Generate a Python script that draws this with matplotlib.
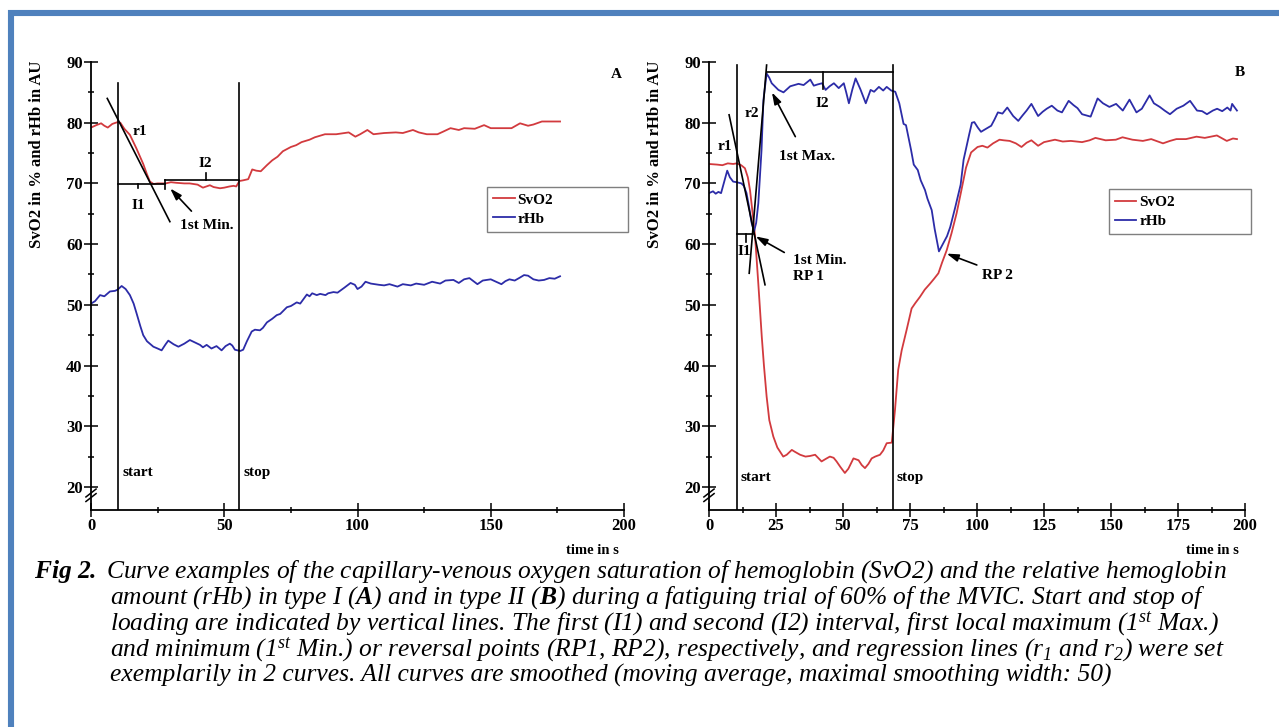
import numpy as np
import matplotlib.pyplot as plt
from matplotlib.patches import Rectangle
from matplotlib.ticker import MultipleLocator

plt.rcParams.update({
    'font.family': 'Liberation Serif',
    'font.weight': 'bold',
    'axes.labelweight': 'bold',
    'mathtext.fontset': 'custom',
    'mathtext.rm': 'Liberation Serif:style=italic:weight=normal',
    'mathtext.it': 'Liberation Serif:style=italic:weight=normal',
    'mathtext.bf': 'Liberation Serif:style=italic:weight=bold',
})

RED = '#d23a3e'
BLUE = '#2c2ca8'

# ---------------- data ----------------
# panel A (type I)
a_svo2_t = [0, 2, 3.8, 5, 6.3, 8, 10, 11, 12.5, 14.6, 17, 19.6, 21, 22.1, 23.5, 25, 28, 30, 32, 35, 37,
            40, 42, 44.6, 46, 48.4, 50, 52, 53.5, 54.5, 55.7, 57, 59, 60.5, 62, 63.7, 66, 68, 70, 72,
            75, 77, 79, 82, 84, 87.8, 92, 96.7, 99.2, 101, 103.7, 106, 110, 114.4, 117, 120.8, 123,
            126, 130, 132, 134.9, 138, 140, 144, 147.5, 150, 154, 157.8, 161, 164, 166, 169.2, 172, 176]
a_svo2 = [79.2, 79.6, 79.9, 79.5, 79.2, 79.8, 80.1, 80.0, 79.0, 78.0, 75.8, 73.2, 71.5, 70.3, 69.9, 70.0,
          70.0, 70.2, 70.1, 70.0, 70.0, 69.8, 69.3, 69.7, 69.4, 69.2, 69.3, 69.5, 69.6, 69.5, 70.4, 70.5,
          70.7, 72.3, 72.1, 72.0, 73.0, 73.8, 74.4, 75.3, 76.0, 76.3, 76.8, 77.2, 77.6, 78.1, 78.1, 78.4,
          77.7, 78.1, 78.8, 78.1, 78.3, 78.4, 78.3, 78.8, 78.4, 78.1, 78.1, 78.5, 79.1, 78.8, 79.1, 79.0,
          79.6, 79.1, 79.1, 79.1, 79.9, 79.5, 79.7, 80.2, 80.2, 80.2]
a_rhb_t = [0, 1.5, 3.4, 5, 7.1, 9, 10, 11.5, 13, 14.6, 16, 17.1, 18.5, 19.6, 21, 23.4, 25, 26.5, 28, 29,
           31, 32.8, 35, 37.1, 39, 40.9, 42, 43.4, 45.2, 47.1, 49, 50.5, 52.1, 53, 54, 56, 57.1, 58.5,
           60.3, 61.5, 63.4, 64.5, 66, 68, 69.7, 71, 73.5, 75, 77.2, 78.5, 81, 82, 83, 84.7, 86, 88, 89,
           91, 92.5, 95, 97.4, 99, 100, 101.5, 103, 105, 108, 110, 112, 115, 117, 120, 122, 125, 128,
           131, 133, 136, 138, 140, 142, 143.5, 145, 147, 150, 152, 154, 155.5, 157, 159, 161, 162.5,
           164, 166, 168, 170, 172, 174, 176]
a_rhb = [50.2, 50.6, 51.6, 51.4, 52.2, 52.3, 52.5, 53.1, 52.6, 51.6, 50.2, 48.6, 46.5, 45.0, 44.0, 43.1,
         42.8, 42.5, 43.5, 44.1, 43.5, 43.1, 43.6, 44.2, 43.8, 43.4, 43.0, 43.4, 42.8, 43.2, 42.5, 43.2,
         43.6, 43.3, 42.6, 42.4, 42.6, 44.0, 45.6, 45.9, 45.8, 46.2, 47.1, 47.7, 48.3, 48.5, 49.6, 49.8,
         50.4, 50.2, 51.7, 51.4, 51.9, 51.6, 51.8, 51.6, 51.9, 52.1, 52.0, 52.8, 53.6, 53.3, 52.6, 53.0,
         53.8, 53.5, 53.3, 53.2, 53.4, 53.0, 53.4, 53.2, 53.5, 53.3, 53.8, 53.5, 54.0, 54.1, 53.6, 54.2,
         54.4, 53.9, 53.4, 54.0, 54.2, 53.8, 53.4, 53.9, 54.2, 54.0, 54.5, 54.9, 54.8, 54.2, 54.0, 54.1,
         54.4, 54.3, 54.7]

# panel B (type II)
b_svo2_t = [0, 3, 5, 7, 9, 10.3, 12, 13.4, 14.5, 15.3, 16.3, 17.2, 18.4, 19.7, 20.5, 21.5, 22.5, 24,
            25.5, 27.7, 29, 30.9, 32, 34, 36, 37.7, 39.6, 42, 43.5, 45.1, 46.5, 47.6, 49, 50.7, 52,
            53.9, 55.8, 57, 58.2, 59.5, 60.7, 62, 63.8, 65, 66.3, 68.2, 69.4, 70.6, 71.9, 73.7, 75.6,
            77, 78.7, 80.5, 82.5, 84, 85.6, 87, 88.7, 90.5, 92.4, 94, 95.9, 97.8, 100.2, 102, 103.9,
            106, 108.4, 110, 112.2, 114.5, 116.6, 118.5, 120.3, 122.8, 125, 129.1, 132, 135, 139.2,
            142, 144.2, 148, 151.8, 154.3, 158, 161.9, 165, 169.4, 172, 174.4, 178, 181.9, 185,
            189.5, 193.2, 195.5, 197]
b_svo2 = [73.2, 73.1, 73.0, 73.3, 73.2, 73.3, 73.0, 72.5, 71.0, 68.9, 65.0, 61.2, 53.5, 44.7, 40.0,
          34.9, 31.0, 28.3, 26.5, 25.0, 25.3, 26.1, 25.8, 25.3, 25.0, 25.1, 25.3, 24.2, 24.6, 25.0,
          24.8, 24.2, 23.3, 22.3, 23.0, 24.7, 24.4, 23.6, 23.1, 23.8, 24.7, 25.0, 25.3, 26.0, 27.2,
          27.3, 32.7, 39.3, 42.5, 45.8, 49.4, 50.3, 51.3, 52.5, 53.5, 54.3, 55.2, 57.0, 59.0, 61.8,
          65.1, 68.5, 72.6, 75.1, 76.0, 76.2, 75.9, 76.6, 77.2, 77.1, 77.0, 76.6, 76.0, 76.7, 77.1,
          76.2, 76.8, 77.2, 76.9, 77.0, 76.8, 77.1, 77.5, 77.1, 77.2, 77.6, 77.2, 77.0, 77.3, 76.6,
          77.0, 77.3, 77.3, 77.7, 77.5, 77.9, 77.0, 77.4, 77.3]
b_rhb_t = [0, 1.5, 2.5, 3.5, 4.5, 5.5, 6.8, 7.8, 9, 10.3, 12.1, 13, 14, 15, 15.9, 16.8, 17.6, 18.4,
           19.6, 20.3, 21.5, 22.5, 23.4, 25.9, 27.8, 30.3, 33.4, 35.3, 37.8, 39.1, 40.5, 42.2, 43.5,
           45, 46.6, 48.4, 50.3, 51.2, 52.2, 53.5, 54.7, 56.5, 58.5, 60.3, 61.6, 63.4, 65, 66.3, 68,
           69.5, 71, 72.6, 73.5, 75.4, 76.4, 77.9, 79, 80.6, 81.5, 83.1, 84.2, 85.8, 87, 88.8, 90,
           91.9, 93.9, 95, 97.1, 98.1, 99, 100.3, 101.5, 103, 105.3, 106.5, 107.8, 109.5, 111.3,
           113.5, 115.4, 117, 118.5, 120.3, 122.8, 124.5, 126, 127.9, 130, 131.7, 134.2, 136, 137.5,
           139.2, 142.4, 145, 147, 149.4, 151.9, 154.4, 156.9, 159.5, 161.5, 164.4, 166, 168.2, 170,
           172, 174.5, 177, 179.5, 182.1, 184, 185.8, 188, 189.6, 191.5, 193.4, 194.6, 195.2, 196, 197]
b_rhb = [68.4, 68.7, 68.3, 68.6, 68.4, 70.0, 72.1, 71.0, 70.3, 70.2, 70.0, 69.6, 68.4, 66.0, 63.5,
         62.1, 63.5, 66.7, 75.5, 83.7, 88.1, 87.4, 86.5, 85.4, 85.0, 86.0, 86.4, 86.2, 87.1, 86.1,
         86.3, 86.5, 85.4, 86.0, 86.5, 85.7, 86.5, 85.0, 83.2, 85.5, 87.3, 85.5, 83.2, 85.4, 85.1,
         85.9, 85.3, 85.9, 85.3, 85.1, 83.2, 79.8, 79.6, 75.5, 73.1, 72.2, 70.5, 68.9, 67.5, 65.6,
         62.5, 58.8, 59.8, 61.3, 62.8, 66.1, 69.8, 73.9, 78.1, 80.0, 80.1, 79.2, 78.5, 78.9, 79.5,
         80.5, 81.7, 81.5, 82.5, 81.1, 80.3, 81.2, 82.0, 83.1, 81.1, 81.8, 82.3, 82.8, 82.0, 81.7,
         83.6, 82.9, 82.4, 81.4, 81.0, 84.0, 83.2, 82.6, 83.1, 82.0, 83.8, 81.7, 82.3, 84.5, 83.2,
         82.6, 82.0, 81.4, 82.3, 82.8, 83.6, 82.0, 81.9, 81.4, 82.0, 82.3, 81.9, 82.5, 82.0, 83.1,
         82.6, 82.0]

# start / stop of loading (s)
a_start, a_stop = 10, 55.7
b_start, b_stop = 10.5, 68.7

# ---------------- figure ----------------
W, H = 1279, 727
fig = plt.figure(figsize=(W / 100, H / 100), dpi=100)
fig.add_artist(Rectangle((11 / W, -0.1), 1.2, 1.1 - 13 / H, transform=fig.transFigure,
                         fill=False, edgecolor='#4f81bd', lw=4.4))

axA = fig.add_axes([91 / W, 217 / H, 533 / W, 448 / H])
axB = fig.add_axes([709 / W, 217 / H, 536 / W, 448 / H])


def style(ax, xmaj, xmin):
    ax.set_xlim(0, 200)
    ax.set_ylim(16.2, 90)
    for s in ['top', 'right']:
        ax.spines[s].set_visible(False)
    for s in ['left', 'bottom']:
        ax.spines[s].set_linewidth(1.3)
    ax.xaxis.set_major_locator(MultipleLocator(xmaj))
    ax.xaxis.set_minor_locator(MultipleLocator(xmin))
    ax.yaxis.set_major_locator(MultipleLocator(10))
    ax.yaxis.set_minor_locator(MultipleLocator(5))
    ax.tick_params(which='major', direction='inout', length=10, width=1.1, labelsize=12, pad=1)
    ax.tick_params(which='minor', direction='inout', length=5, width=1.1)
    ax.set_ylabel('SvO2 in % and rHb in AU', fontsize=12)
    ax.yaxis.set_label_coords(-0.086, 0.795)
    ax.set_xlabel('time in s', fontsize=10.5)
    ax.xaxis.set_label_coords(0.94, -0.075)
    # axis break marks
    for dy in (0, 0.75):
        ax.plot([-1.9, 1.9], [17.6 + dy, 18.9 + dy], color='black', lw=1.1, clip_on=False)


style(axA, 50, 25)
style(axB, 25, 12.5)

K = dict(color='black', lw=1.2)
TXT = dict(fontsize=11, fontweight='bold')
ARW = dict(arrowstyle='-|>,head_length=0.7,head_width=0.22', color='black', lw=1.2)

# ---- panel A ----
axA.plot(a_svo2_t, a_svo2, color=RED, lw=1.3, label='SvO2')
axA.plot(a_rhb_t, a_rhb, color=BLUE, lw=1.3, label='rHb')
axA.plot([a_start, a_start], [16.2, 86.5], **K)
axA.plot([a_stop, a_stop], [16.2, 86.5], **K)
axA.text(12, 22.4, 'start', va='center', **TXT)
axA.text(57.4, 22.4, 'stop', va='center', **TXT)
axA.plot([6.1, 29.6], [84.0, 63.7], **K)           # r1
axA.text(18.4, 78.5, 'r1', ha='center', va='center', **TXT)
axA.plot([a_start, 27.8], [69.85, 69.85], **K)      # I1
axA.plot([17.8, 17.8], [69.85, 69.2], **K)
axA.plot([27.8, 27.8], [69.1, 70.6], **K)
axA.text(17.8, 66.4, 'I1', ha='center', va='center', **TXT)
axA.plot([27.8, a_stop], [70.55, 70.55], **K)       # I2
axA.plot([43, 43], [70.55, 71.65], **K)
axA.text(43, 73.3, 'I2', ha='center', va='center', **TXT)
axA.annotate('', xy=(29.0, 69.5), xytext=(38.4, 65.1), arrowprops=ARW)
axA.text(43.4, 63.1, '1st Min.', ha='center', va='center', **TXT)
axA.text(197, 87.9, 'A', ha='center', va='center', **TXT)

# ---- panel B ----
axB.plot(b_svo2_t, b_svo2, color=RED, lw=1.3, label='SvO2')
axB.plot(b_rhb_t, b_rhb, color=BLUE, lw=1.3, label='rHb')
axB.plot([b_start, b_start], [16.2, 89.5], **K)
axB.plot([b_stop, b_stop], [16.2, 89.5], **K)
axB.text(11.6, 21.6, 'start', va='center', **TXT)
axB.text(69.8, 21.6, 'stop', va='center', **TXT)
axB.plot([7.5, 20.9], [81.3, 53.3], **K)            # r1
axB.text(6, 76.0, 'r1', ha='center', va='center', **TXT)
axB.plot([21.5, 15.0], [89.5, 55.2], **K)           # r2
axB.text(15.9, 81.5, 'r2', ha='center', va='center', **TXT)
axB.plot([b_start, 16.5], [61.7, 61.7], **K)        # I1
axB.plot([13.8, 13.8], [61.7, 60.4], **K)
axB.text(13.2, 58.8, 'I1', ha='center', va='center', **TXT)
axB.plot([21.5, b_stop], [88.4, 88.4], **K)         # I2
axB.plot([42.4, 42.4], [88.4, 85.6], **K)
axB.text(42.4, 83.2, 'I2', ha='center', va='center', **TXT)
axB.annotate('', xy=(23.0, 85.4), xytext=(32.7, 77.3), arrowprops=ARW)
axB.text(36.5, 74.4, '1st Max.', ha='center', va='center', **TXT)
axB.annotate('', xy=(16.5, 61.5), xytext=(29.0, 58.4), arrowprops=ARW)
axB.text(31.5, 58.4, '1st Min.\nRP 1', ha='left', va='top', linespacing=1.35, **TXT)
axB.annotate('', xy=(87.7, 58.6), xytext=(100.9, 56.4), arrowprops=ARW)
axB.text(107.8, 54.8, 'RP 2', ha='center', va='center', **TXT)
axB.text(198, 88.2, 'B', ha='center', va='center', **TXT)

for ax, x0, y0 in [(axA, 0.743, 0.621), (axB, 0.746, 0.616)]:
    leg = ax.legend(loc='upper left', bbox_to_anchor=(x0, y0, 0.265, 0.1), mode='expand',
                    borderaxespad=0, fancybox=False, framealpha=1, edgecolor='#7f7f7f',
                    fontsize=11, handlelength=1.4, handletextpad=0.2, labelspacing=0.35,
                    borderpad=0.4)
    leg.get_frame().set_linewidth(1.0)

# ---------------- caption ----------------
cap = [
    r'$\mathbf{Fig\ 2.}$ Curve examples of the capillary-venous oxygen saturation of hemoglobin (SvO2) and the relative hemoglobin',
    r'amount (rHb) in type I ($\mathbf{A}$) and in type II ($\mathbf{B}$) during a fatiguing trial of 60% of the MVIC. Start and stop of',
    r'loading are indicated by vertical lines. The first (I1) and second (I2) interval, first local maximum ($1^{st}$ Max.)',
    r'and minimum ($1^{st}$ Min.) or reversal points (RP1, RP2), respectively, and regression lines (r$_1$ and r$_2$) were set',
    'exemplarily in 2 curves. All curves are smoothed (moving average, maximal smoothing width: 50)',
]
cap_x = [34, 110, 110, 110, 110]
cap_base = [578, 604, 630, 656, 682]
for s, x, y in zip(cap, cap_x, cap_base):
    fig.text(x / W, 1 - y / H, s, fontsize=18.4, fontstyle='italic', fontweight='normal',
             ha='left', va='baseline')

fig.savefig('out.png', dpi=100)
